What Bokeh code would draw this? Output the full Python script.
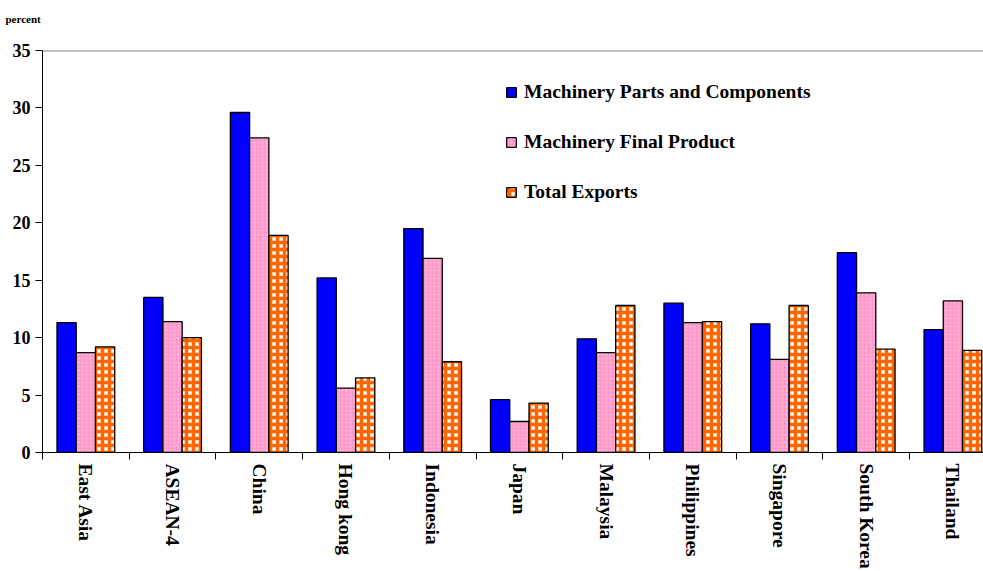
import numpy as np
from bokeh.plotting import figure
from bokeh.models import (ColumnDataSource, Range1d, FixedTicker, Legend, LegendItem,
                          Title, Span, LinearAxis)
from bokeh.embed import file_html
from bokeh.resources import INLINE

categories = ["East Asia", "ASEAN-4", "China", "Hong kong", "Indonesia", "Japan",
              "Malaysia", "Philippines", "Singapore", "South Korea", "Thailand"]
parts_components = [11.3, 13.5, 29.6, 15.2, 19.5, 4.6, 9.9, 13.0, 11.2, 17.4, 10.7]
final_product = [8.7, 11.4, 27.4, 5.6, 16.9, 2.7, 8.7, 11.3, 8.1, 13.9, 13.2]
total_exports = [9.2, 10.0, 18.9, 6.5, 7.9, 4.3, 12.8, 11.4, 12.8, 9.0, 8.9]
y_ticks = [0, 5, 10, 15, 20, 25, 30, 35]

FONT = "Liberation Serif"

centers = np.arange(len(categories)) + 0.5
bw = 0.222
src = ColumnDataSource(dict(
    x1=centers - bw, x2=centers, x3=centers + bw,
    a=parts_components, b=final_product, c=total_exports))

p = figure(width=983, height=571, output_backend="svg", toolbar_location=None,
           x_range=Range1d(0, 10.853), y_range=Range1d(0, 35),
           min_border_left=42, min_border_right=0, min_border_top=50,
           min_border_bottom=119, x_axis_type=None, y_axis_type=None)
p.outline_line_color = None
p.xgrid.visible = False
p.ygrid.visible = False

r1 = p.vbar(x="x1", top="a", width=bw, source=src, fill_color="#0000FF",
            line_color="black", line_width=1.3)
r2 = p.vbar(x="x2", top="b", width=bw, source=src, fill_color="#FF99CC",
            hatch_pattern="dot", hatch_color="#FFC4E2", hatch_scale=4, hatch_weight=1,
            line_color="black", line_width=1.3)
r3 = p.vbar(x="x3", top="c", width=bw, source=src, fill_color="white",
            hatch_pattern="cross", hatch_color="#FF6600", hatch_scale=7, hatch_weight=3.5,
            line_color="black", line_width=1.3)

top_line = Span(location=35, dimension="width", line_color="#808080", line_width=2)
p.add_layout(top_line)

yaxis = LinearAxis(ticker=FixedTicker(ticks=y_ticks, minor_ticks=[]))
yaxis.major_tick_out = 7
yaxis.major_tick_in = 0
yaxis.major_label_standoff = 5
yaxis.axis_line_color = "black"
yaxis.major_label_text_font = FONT
yaxis.major_label_text_font_style = "bold"
yaxis.major_label_text_font_size = "18px"
yaxis.major_label_text_color = "black"
p.add_layout(yaxis, "left")

boundaries = list(range(len(categories) + 1))
xaxis = LinearAxis(ticker=FixedTicker(ticks=list(centers), minor_ticks=boundaries))
xaxis.major_label_overrides = {float(c): n for c, n in zip(centers, categories)}
xaxis.major_tick_line_color = None
xaxis.major_tick_out = 7
xaxis.major_tick_in = 0
xaxis.minor_tick_out = 7
xaxis.minor_tick_in = 0
xaxis.minor_tick_line_color = "black"
xaxis.major_label_standoff = 4
xaxis.major_label_orientation = "vertical"
xaxis.axis_line_color = "black"
xaxis.major_label_text_font = FONT
xaxis.major_label_text_font_style = "bold"
xaxis.major_label_text_font_size = "19.5px"
xaxis.major_label_text_color = "black"
p.add_layout(xaxis, "below")

legend = Legend(items=[
    LegendItem(label="Machinery Parts and Components", renderers=[r1]),
    LegendItem(label="Machinery Final Product", renderers=[r2]),
    LegendItem(label="Total Exports", renderers=[r3]),
], location=(463, 249))
legend.padding = 0
legend.margin = 0
legend.border_line_color = None
legend.background_fill_alpha = 0
legend.glyph_width = 12
legend.glyph_height = 12
legend.label_standoff = 7
legend.label_height = 20
legend.spacing = 28
legend.label_text_font = FONT
legend.label_text_font_style = "bold"
legend.label_text_font_size = "19.5px"
legend.label_text_color = "black"
p.add_layout(legend, "center")

# an empty spacer title between the frame and the "percent" caption
spacer = Title(text=" ", text_font=FONT, text_font_size="11px", standoff=0)
p.add_layout(spacer, "above")

ttl = Title(text="percent", text_font=FONT, text_font_style="bold",
            text_font_size="11px", text_color="black", align="left",
            vertical_align="top", offset=-37, standoff=20)
p.add_layout(ttl, "above")

open("out.html", "w").write(file_html(p, INLINE))
